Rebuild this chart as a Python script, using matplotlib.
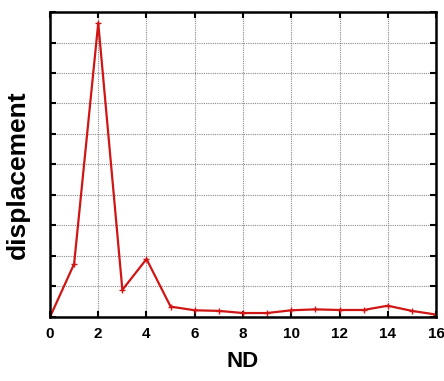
import matplotlib.pyplot as plt

# displacement per ND
nd = [0, 1, 2, 3, 4, 5, 6, 7, 8, 9, 10, 11, 12, 13, 14, 15, 16]
displacement = [0.0, 1.74, 9.64, 0.89, 1.9, 0.34, 0.22, 0.2, 0.13, 0.13,
                0.22, 0.25, 0.23, 0.23, 0.37, 0.2, 0.08]

plt.rcParams['font.family'] = ['Liberation Sans', 'DejaVu Sans']

fig = plt.figure(figsize=(4.44, 3.81), dpi=100)
ax = fig.add_axes([0.1126, 0.168, 0.8694, 0.8005])

ax.plot(nd, displacement, color='#d01515', linewidth=1.6,
        marker='+', markersize=5, markeredgewidth=1.0)

ax.set_xlim(0, 16)
ax.set_ylim(0, 10)
ax.set_xticks(range(0, 17, 2))
ax.set_yticks(range(0, 11))
ax.set_yticklabels([])

ax.grid(True, color='#8a8a8a', linestyle=(0, (1, 1)), linewidth=0.8)
ax.tick_params(direction='in', length=4, width=1.5, top=True, right=True,
               labelsize=11, pad=7)
for lbl in ax.get_xticklabels():
    lbl.set_fontweight('bold')
for s in ax.spines.values():
    s.set_linewidth(1.8)

ax.set_xlabel('ND', fontsize=16, fontweight='bold')
ax.set_ylabel('displacement', fontsize=19, fontweight='bold')
ax.xaxis.set_label_coords(0.5, -0.112)
ax.yaxis.set_label_coords(-0.052, 0.466)

fig.savefig('out.png', dpi=100)
